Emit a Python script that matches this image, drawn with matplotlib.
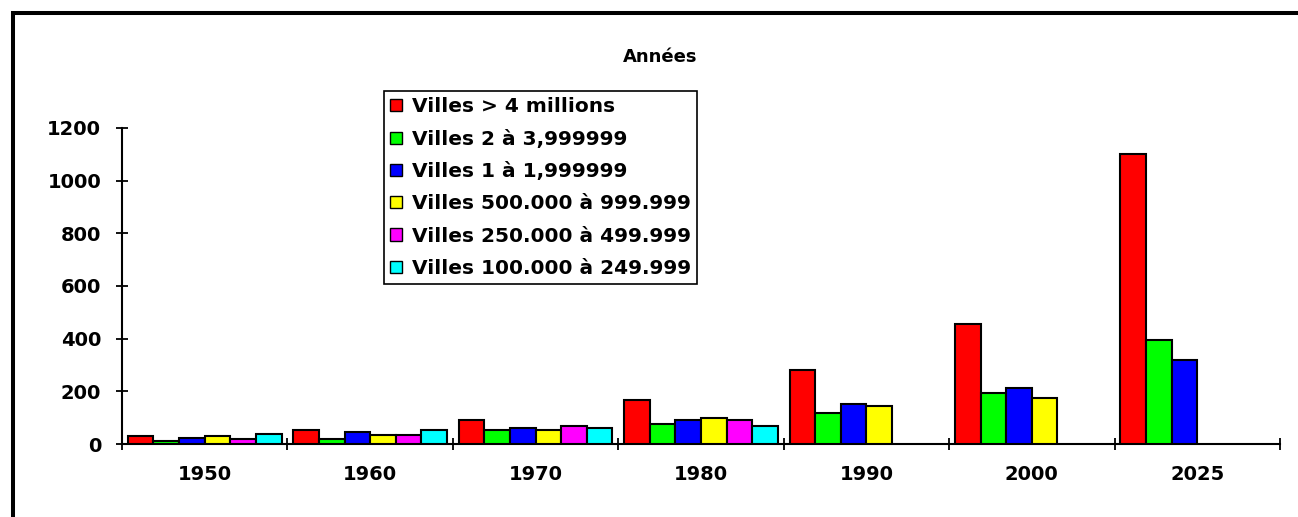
import matplotlib
matplotlib.use("Agg")
import matplotlib.pyplot as plt
from matplotlib.lines import Line2D
import numpy as np

plt.rcParams['font.family'] = ['DejaVu Sans']
plt.rcParams['font.weight'] = 'bold'

years = ["1950", "1960", "1970", "1980", "1990", "2000", "2025"]
series_names = ["Villes > 4 millions", "Villes 2 à 3,999999", "Villes 1 à 1,999999",
                "Villes 500.000 à 999.999", "Villes 250.000 à 499.999", "Villes 100.000 à 249.999"]
v_gt4m = [30, 53, 91, 167, 280, 455, 1100]
v_2to4m = [11, 20, 53, 77, 119, 195, 394]
v_1to2m = [21, 44, 62, 91, 151, 211, 319]
v_500k = [30, 36, 53, 99, 143, 174, None]
v_250k = [20, 36, 68, 91, None, None, None]
v_100k = [38, 52, 61, 68, None, None, None]
series_values = [v_gt4m, v_2to4m, v_1to2m, v_500k, v_250k, v_100k]
colors = ["#FF0000", "#00FF00", "#0000FF", "#FFFF00", "#FF00FF", "#00FFFF"]
yticks = [0, 200, 400, 600, 800, 1000, 1200]

fig = plt.figure(figsize=(12.98, 5.17), dpi=100)
ax = fig.add_axes([122/1298, 1-444/517, (1280-122)/1298, (444-128)/517])

bw = 0.155
x = np.arange(len(years))
handles = []
for i, (name, vals, c) in enumerate(zip(series_names, series_values, colors)):
    xs = [xi - 0.465 + bw*(i+0.5) for xi, v in zip(x, vals) if v is not None]
    hs = [v for v in vals if v is not None]
    ax.bar(xs, hs, width=bw, color=c, edgecolor='black', linewidth=1.5, zorder=3)
    handles.append(plt.Rectangle((0, 0), 1, 1, facecolor=c, edgecolor='black', linewidth=1.0))

ax.set_xlim(-0.5, len(years)-0.5)
ax.set_ylim(0, 1200)
ax.set_yticks(yticks)
ax.set_yticklabels([str(t) for t in yticks])
ax.set_xticks(np.arange(len(years)+1) - 0.5)
ax.set_xticklabels([])
ax.set_xticks(x, minor=True)
ax.set_xticklabels(years, minor=True)
ax.tick_params(axis='x', which='major', direction='inout', length=8, width=1.3)
ax.tick_params(axis='x', which='minor', length=0, pad=15, labelsize=14)
ax.tick_params(axis='y', direction='inout', length=8, width=1.3, pad=11, labelsize=14)
for lab in ax.get_xticklabels(minor=True) + ax.get_yticklabels():
    lab.set_fontweight('bold')
for s in ['top', 'right']:
    ax.spines[s].set_visible(False)
ax.spines['left'].set_linewidth(1.5)
ax.spines['bottom'].set_linewidth(1.5)

leg = ax.legend(handles, series_names, loc='upper left',
                bbox_to_anchor=(384/1298, 1-91/517), bbox_transform=fig.transFigure,
                borderaxespad=0, fancybox=False, framealpha=1, edgecolor='black',
                prop={'weight': 'bold', 'size': 14.5}, handlelength=0.55, handleheight=0.55,
                handletextpad=0.5, labelspacing=0.66, borderpad=0.32)
leg.get_frame().set_linewidth(1.2)

fig.text(660/1298, 1-57/517, "Années", ha='center', va='center', fontsize=13, fontweight='bold')

# outer frame (left and top edges visible)
fig.add_artist(Line2D([13/1298, 13/1298, 1.0], [0.0, 1-13/517, 1-13/517],
                      transform=fig.transFigure, color='black', linewidth=2.9,
                      solid_joinstyle='miter'))

fig.savefig("out.png", dpi=100)
